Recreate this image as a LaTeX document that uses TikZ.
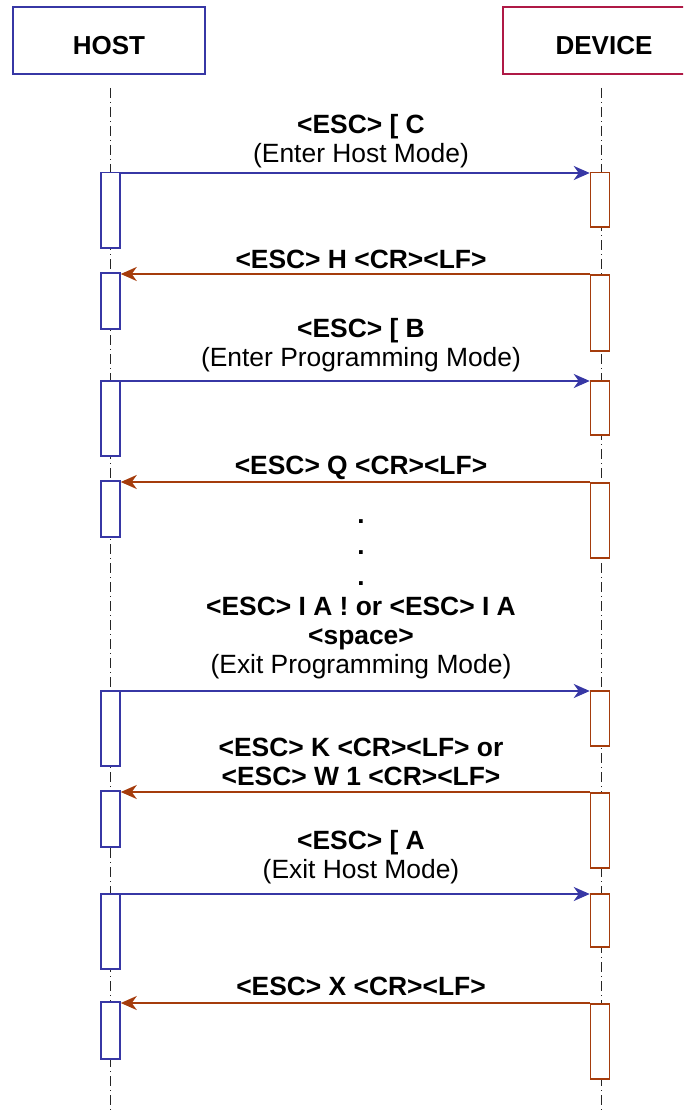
\documentclass[tikz,border=0pt]{standalone}
\usepackage{fontspec}
\setmainfont{Liberation Sans}
\usetikzlibrary{arrows.meta}

\definecolor{hostblue}{RGB}{55,55,165}
\definecolor{devred}{RGB}{175,25,70}
\definecolor{devbrown}{RGB}{165,60,12}

\tikzset{
  actor/.style={draw, line width=1.6pt, minimum width=192pt, minimum height=67pt, inner sep=0pt,
    text height=28pt, text depth=0pt, font=\bfseries\fontsize{26}{29}\selectfont},
  hostbar/.style={draw=hostblue, fill=white, line width=1.5pt, minimum width=19pt, inner sep=0pt, anchor=north},
  devbar/.style={draw=devbrown, fill=white, line width=1.5pt, minimum width=19pt, inner sep=0pt, anchor=north},
  lifeline/.style={line width=0.9pt, black!85, dash pattern=on 10pt off 4pt on 1pt off 4pt},
  callarrow/.style={hostblue, line width=2.2pt, -{Stealth[length=16pt,width=14pt,inset=5pt]}},
  replyarrow/.style={devbrown, line width=2.2pt, -{Stealth[length=16pt,width=14pt,inset=5pt]}},
  cmd/.style={align=center, inner sep=0pt, font=\fontsize{26.4}{29}\selectfont}
}

\begin{document}
\begin{tikzpicture}[x=1pt,y=-1pt]
\useasboundingbox (0,0) rectangle (683,1110);
\clip (0,0) rectangle (683,1110);

% participants
\node[actor, draw=hostblue] (host) at (109,40.5) {HOST};
\node[actor, draw=devred, minimum width=202pt] (device) at (604,40.5) {DEVICE};
\coordinate (hostend) at (110,1110);
\coordinate (devend) at (601,1110);
\draw[lifeline] (110,88) -- (hostend);
\draw[lifeline] (601,88) -- (devend);

% activation bars
\foreach \n/\y/\h in {1/172/75, 2/272/56, 3/380/75, 4/480/56, 5/690/75, 6/790/56, 7/893/75, 8/1001/57}
  \node[hostbar, minimum height=\h pt] (h\n) at (110.5,\y) {};
\foreach \n/\y/\h in {1/172/54, 2/274/76, 3/380/54, 4/482/75, 5/690/55, 6/792/75, 7/893/53, 8/1003/75}
  \node[devbar, minimum height=\h pt] (d\n) at (600,\y) {};

% messages
\draw[callarrow] ([yshift=-1pt]h1.north east) -- ([yshift=-1pt]h1.north east -| d1.west);
\draw[replyarrow] (d2.north west) -- (d2.north west -| h2.east);
\draw[callarrow] ([yshift=-1pt]h3.north east) -- ([yshift=-1pt]h3.north east -| d3.west);
\draw[replyarrow] (d4.north west) -- (d4.north west -| h4.east);
\draw[callarrow] ([yshift=-1pt]h5.north east) -- ([yshift=-1pt]h5.north east -| d5.west);
\draw[replyarrow] (d6.north west) -- (d6.north west -| h6.east);
\draw[callarrow] ([yshift=-1pt]h7.north east) -- ([yshift=-1pt]h7.north east -| d7.west);
\draw[replyarrow] (d8.north west) -- (d8.north west -| h8.east);

% labels
\node[cmd] (l1) at (361,141) {\textbf{<ESC> [ C}\\(Enter Host Mode)};
\node[cmd] (l2) at (361,259) {\textbf{<ESC> H <CR><LF>}};
\node[cmd] (l3) at (361,345) {\textbf{<ESC> [ B}\\(Enter Programming Mode)};
\node[cmd] (l4) at (361,468) {\textbf{<ESC> Q <CR><LF>}};
\node[cmd, font=\bfseries\fontsize{26}{31}\selectfont] (dots) at (361,553) {.\\.\\.};
\node[cmd] (l5) at (361,638) {\textbf{<ESC> I A ! or <ESC> I A}\\\textbf{<space>}\\(Exit Programming Mode)};
\node[cmd] (l6) at (361,762) {\textbf{<ESC> K <CR><LF> or}\\\textbf{<ESC> W 1 <CR><LF>}};
\node[cmd] (l7) at (361,857) {\textbf{<ESC> [ A}\\(Exit Host Mode)};
\node[cmd] (l8) at (361,986) {\textbf{<ESC> X <CR><LF>}};
\end{tikzpicture}
\end{document}
